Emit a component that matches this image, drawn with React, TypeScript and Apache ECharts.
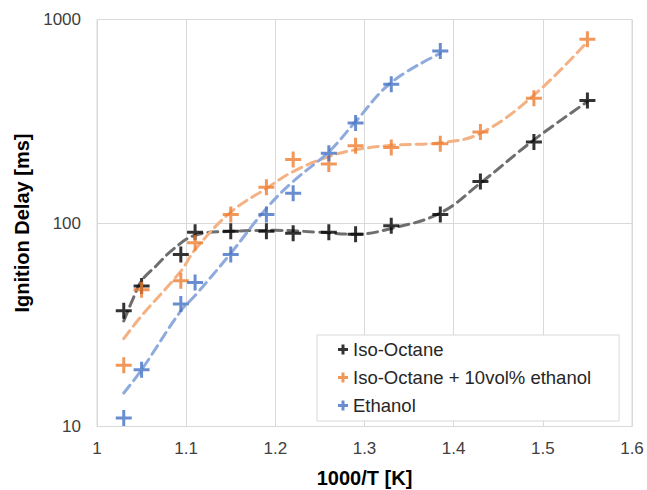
import React, { useEffect, useRef } from "react";
import * as echarts from "echarts";

// Measured points
const isoX = [1.03, 1.05, 1.094, 1.11, 1.15, 1.19, 1.22, 1.26, 1.29, 1.33, 1.385, 1.43, 1.49, 1.55];
const isoY = [37, 49, 70, 90, 91, 91, 89, 90, 88, 97, 110, 160, 250, 400];

const mixX = [1.03, 1.05, 1.094, 1.11, 1.15, 1.19, 1.22, 1.26, 1.29, 1.33, 1.385, 1.43, 1.49, 1.55];
const mixY = [20, 47, 52, 80, 110, 150, 205, 195, 240, 235, 245, 280, 410, 800];

const ethX = [1.03, 1.05, 1.094, 1.11, 1.15, 1.19, 1.22, 1.26, 1.29, 1.33, 1.385];
const ethY = [11, 19, 40, 51, 70, 110, 140, 220, 310, 480, 700];

// Trend lines
const isoTrendX = [1.03, 1.04, 1.05, 1.067, 1.085, 1.11, 1.15, 1.2, 1.25, 1.29, 1.33, 1.385, 1.43, 1.49, 1.55];
const isoTrendY = [33, 42, 52, 62, 74, 87, 91, 92, 90, 88, 94, 112, 157, 256, 395];

const mixTrendX = [1.03, 1.05, 1.094, 1.11, 1.15, 1.19, 1.22, 1.26, 1.29, 1.33, 1.385, 1.43, 1.49, 1.55];
const mixTrendY = [27, 35, 58, 74, 113, 148, 179, 212, 229, 241, 248, 276, 425, 778];

const ethTrendX = [1.03, 1.05, 1.094, 1.11, 1.15, 1.19, 1.22, 1.26, 1.29, 1.33, 1.385];
const ethTrendY = [14.6, 19, 37, 44, 71, 118, 160, 224, 315, 490, 682];

const yTickLabels = ["10", "100", "1000"];

const seriesNames = ["Iso-Octane", "Iso-Octane + 10vol% ethanol", "Ethanol"];
const markerColors = ["#000000", "#ED7D31", "#4472C4"];
const trendColors = ["#6E6E6E", "#F4B183", "#8FAADC"];

const PLUS = "path://M6.5,0H9.5V6.5H16V9.5H9.5V16H6.5V9.5H0V6.5H6.5Z";
const FONT = "'Liberation Sans', Arial, sans-serif";

const zip = (xs: number[], ys: number[]) => xs.map((x, i) => [x, ys[i]]);

export default function App() {
  const ref = useRef<HTMLDivElement>(null);
  useEffect(() => {
    if (!ref.current) return;
    const chart = echarts.init(ref.current, undefined, { renderer: "svg" });
    const pts = [zip(isoX, isoY), zip(mixX, mixY), zip(ethX, ethY)];
    const trends = [zip(isoTrendX, isoTrendY), zip(mixTrendX, mixTrendY), zip(ethTrendX, ethTrendY)];
    chart.setOption({
      animation: false,
      backgroundColor: "#ffffff",
      grid: {
        left: 97,
        top: 19.5,
        right: 15,
        bottom: 63.5,
        outerBoundsMode: "none",
        containLabel: false,
        show: true,
        borderColor: "#D9D9D9",
        borderWidth: 1,
      },
      xAxis: {
        type: "value",
        min: 1,
        max: 1.6,
        interval: 0.1,
        name: "1000/T [K]",
        nameLocation: "middle",
        nameGap: 41,
        nameTextStyle: { fontFamily: FONT, fontSize: 20, fontWeight: "bold", color: "#000" },
        axisLine: { show: true, lineStyle: { color: "#D9D9D9", width: 1 } },
        axisTick: { show: false },
        axisLabel: {
          fontFamily: FONT,
          fontSize: 17,
          color: "#404040",
          margin: 13,
          formatter: (v: number) => String(Math.round(v * 10) / 10),
        },
        splitLine: { show: true, lineStyle: { color: "#D9D9D9", width: 1 } },
      },
      yAxis: {
        type: "log",
        logBase: 10,
        min: 10,
        max: 1000,
        name: "Ignition Delay [ms]",
        nameLocation: "middle",
        nameGap: 61,
        nameTextStyle: { fontFamily: FONT, fontSize: 20, fontWeight: "bold", color: "#000" },
        axisLine: { show: true, lineStyle: { color: "#D9D9D9", width: 1 } },
        axisTick: { show: false },
        minorTick: { show: false },
        axisLabel: {
          fontFamily: FONT,
          fontSize: 17,
          color: "#404040",
          margin: 16,
          formatter: (v: number) => {
            const idx = Math.round(Math.log10(v)) - 1;
            return yTickLabels[idx] ?? String(v);
          },
        },
        splitLine: { show: true, lineStyle: { color: "#D9D9D9", width: 1 } },
      },
      legend: {
        data: seriesNames,
        orient: "vertical",
        left: 317,
        top: 335,
        padding: [5, 28, 6, 21],
        itemGap: 9,
        itemWidth: 10,
        itemHeight: 10,
        icon: "path://M3.5,0H6.5V3.5H10V6.5H6.5V10H3.5V6.5H0V3.5H3.5Z",
        borderColor: "#D9D9D9",
        borderWidth: 1,
        backgroundColor: "#ffffff",
        textStyle: { fontFamily: FONT, fontSize: 18.5, color: "#262626" },
      },
      series: [
        ...trends.map((d, i) => ({
          name: seriesNames[i] + " trend",
          type: "line",
          data: d,
          smooth: 0.4,
          showSymbol: false,
          symbol: "none",
          lineStyle: { color: trendColors[i], width: 3, type: [10, 6], cap: "round" },
          z: 2,
          silent: true,
        })),
        ...pts.map((d, i) => ({
          name: seriesNames[i],
          type: "scatter",
          data: d,
          symbol: PLUS,
          symbolSize: 16,
          itemStyle: { color: markerColors[i] },
          z: 3,
        })),
      ],
    });
    return () => chart.dispose();
  }, []);
  return (
    <div
      ref={ref}
      style={{ position: "absolute", left: 0, top: 0, width: 647, height: 490, background: "#fff" }}
    />
  );
}
